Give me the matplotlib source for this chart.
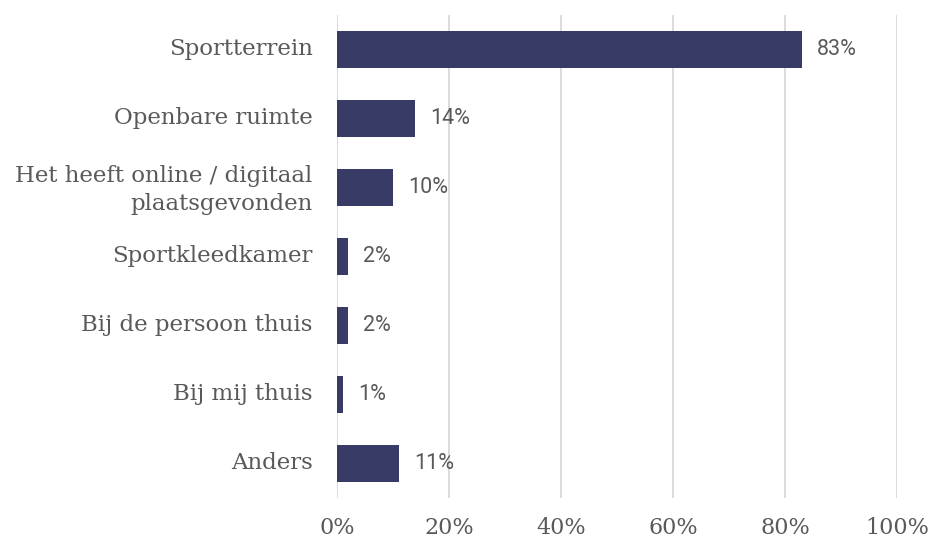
import matplotlib
matplotlib.use("Agg")
import matplotlib.pyplot as plt
import matplotlib.transforms as mtransforms
from matplotlib.ticker import FuncFormatter

categories = ["Sportterrein", "Openbare ruimte", "Het heeft online / digitaal\nplaatsgevonden",
              "Sportkleedkamer", "Bij de persoon thuis", "Bij mij thuis", "Anders"]
values = [83, 14, 10, 2, 2, 1, 11]
xticks = [0, 20, 40, 60, 80, 100]

bar_color = "#373b66"
text_color = "#595959"

fig = plt.figure(figsize=(9.31, 5.41), dpi=100)
ax = fig.add_axes([0.362, 0.0795, 0.6015, 0.8928])

ypos = list(range(len(categories)))
ax.barh(ypos, values, height=0.55, color=bar_color, zorder=3)
for y, v in zip(ypos, values):
    ax.text(v + 2.7, y, f"{v}%", va="center", ha="left", fontsize=15.5,
            family="Roboto", color=text_color)

ax.set_xlim(0, 100)
ax.set_ylim(len(categories) - 0.5, -0.5)
ax.set_yticks(ypos)
ax.set_yticklabels(categories, family="DejaVu Serif", fontsize=16.5, color=text_color,
                   linespacing=1.35)
ax.set_xticks(xticks)
ax.xaxis.set_major_formatter(FuncFormatter(lambda x, p: f"{x:.0f}%"))
for lbl in ax.get_xticklabels():
    lbl.set_family("DejaVu Serif")
    lbl.set_fontsize(16)
    lbl.set_color(text_color)
ax.tick_params(axis="both", length=0)
ax.tick_params(axis="y", pad=17.5)
ax.tick_params(axis="x", pad=14)

# nudge category labels up a little
up = mtransforms.ScaledTranslation(0, 3 / 100, fig.dpi_scale_trans)
for lbl in ax.get_yticklabels():
    lbl.set_transform(lbl.get_transform() + up)

ax.grid(axis="x", color="#d9d9d9", linewidth=1.3, zorder=0)
for s in ax.spines.values():
    s.set_visible(False)

fig.savefig("out.png", dpi=100)
